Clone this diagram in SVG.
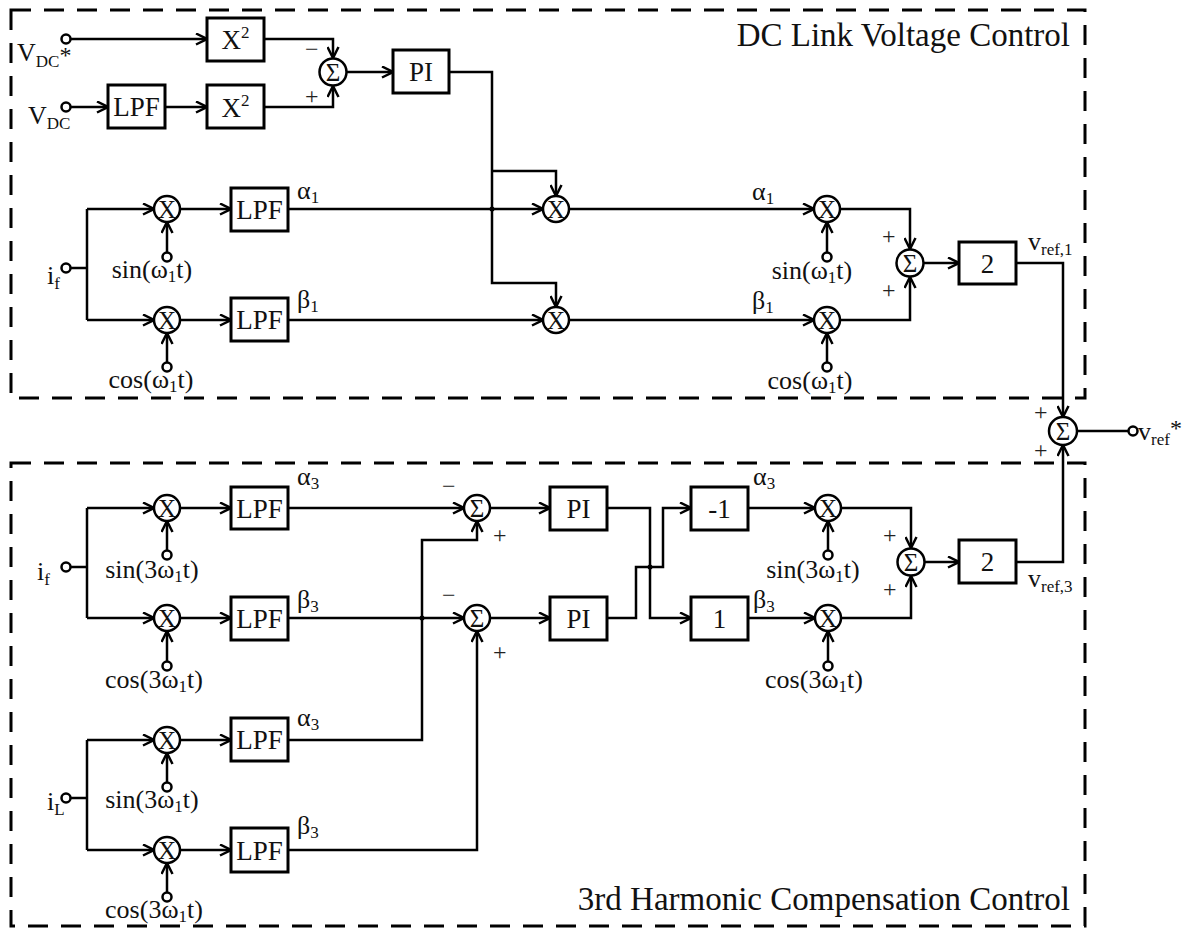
<svg xmlns="http://www.w3.org/2000/svg" width="1195" height="928" viewBox="0 0 1195 928">
<style>
.ln{fill:none;stroke:#000;stroke-width:2.5}
.box{fill:#fff;stroke:#000;stroke-width:3}
.cir{fill:#fff;stroke:#000;stroke-width:2.5}
.term{fill:#fff;stroke:#000;stroke-width:2.5}
.dash{fill:none;stroke:#000;stroke-width:3;stroke-dasharray:20 13}
.dot{fill:#000}
text{font-family:"Liberation Serif","Times New Roman",serif;fill:#111}
.bt{font-size:27px;text-anchor:middle}
.op{font-size:25px;text-anchor:middle}
.lb{font-size:26px}
.lc{font-size:26px;text-anchor:middle}
.sg{font-size:24px;fill:#222}
.ttl{font-size:33px;text-anchor:end}
.sub{font-size:17px}
</style>
<defs>
<marker id="ar" viewBox="0 0 13 13" refX="12" refY="6.5" markerWidth="13" markerHeight="13" markerUnits="userSpaceOnUse" orient="auto">
<path d="M1,1 L12,6.5 L1,12" fill="none" stroke="#000" stroke-width="2.5"/>
</marker>
</defs>

<g id="frames">
<rect class="dash" x="11" y="10" width="1074" height="388"/>
<rect class="dash" x="11" y="463" width="1074" height="463"/>
<text class="ttl" x="1070" y="46">DC Link Voltage Control</text>
<text class="ttl" x="1070" y="910">3rd Harmonic Compensation Control</text>
</g>

<g id="connectors">
<path class="ln" marker-end="url(#ar)" d="M70,39 H207"/>
<path class="ln" marker-end="url(#ar)" d="M70,107 H108"/>
<path class="ln" marker-end="url(#ar)" d="M165,107 H207"/>
<path class="ln" marker-end="url(#ar)" d="M264,39 H333 V58"/>
<path class="ln" marker-end="url(#ar)" d="M265,107 H333 V86"/>
<path class="ln" marker-end="url(#ar)" d="M347,72 H393"/>
<path class="ln" marker-end="url(#ar)" d="M449,72 H492 V283 H556 V307"/>
<path class="ln" marker-end="url(#ar)" d="M492,171 H556 V196"/>
<path class="ln" d="M70,268 H87 M87,209 V320"/>
<path class="ln" marker-end="url(#ar)" d="M87,209 H154"/>
<path class="ln" marker-end="url(#ar)" d="M87,320 H154"/>
<path class="ln" marker-end="url(#ar)" d="M167,253 V222"/>
<path class="ln" marker-end="url(#ar)" d="M167,363 V333"/>
<path class="ln" marker-end="url(#ar)" d="M180,209 H231"/>
<path class="ln" marker-end="url(#ar)" d="M180,320 H231"/>
<path class="ln" marker-end="url(#ar)" d="M288,209 H543"/>
<path class="ln" marker-end="url(#ar)" d="M288,320 H543"/>
<circle class="dot" cx="492" cy="209" r="2.5"/>
<path class="ln" marker-end="url(#ar)" d="M569,209 H814"/>
<path class="ln" marker-end="url(#ar)" d="M569,320 H814"/>
<path class="ln" marker-end="url(#ar)" d="M827,253 V222"/>
<path class="ln" marker-end="url(#ar)" d="M827,363 V333"/>
<path class="ln" marker-end="url(#ar)" d="M840,209 H910 V249"/>
<path class="ln" marker-end="url(#ar)" d="M840,320 H910 V277"/>
<path class="ln" marker-end="url(#ar)" d="M924,263 H959"/>
<path class="ln" marker-end="url(#ar)" d="M1016,263 H1063 V417"/>
<path class="ln" d="M1077,431 H1129"/>
<path class="ln" d="M70,567 H87 M87,508 V618"/>
<path class="ln" marker-end="url(#ar)" d="M87,508 H154"/>
<path class="ln" marker-end="url(#ar)" d="M87,618 H154"/>
<path class="ln" marker-end="url(#ar)" d="M167,551 V521"/>
<path class="ln" marker-end="url(#ar)" d="M167,662 V631"/>
<path class="ln" marker-end="url(#ar)" d="M180,508 H231"/>
<path class="ln" marker-end="url(#ar)" d="M180,618 H231"/>
<path class="ln" marker-end="url(#ar)" d="M288,508 H464"/>
<path class="ln" marker-end="url(#ar)" d="M288,618 H464"/>
<circle class="dot" cx="422" cy="618" r="2.5"/>
<path class="ln" marker-end="url(#ar)" d="M490,508 H550"/>
<path class="ln" marker-end="url(#ar)" d="M490,618 H550"/>
<path class="ln" marker-end="url(#ar)" d="M607,508 H650 V618 H691"/>
<path class="ln" marker-end="url(#ar)" d="M607,618 H636 V567 H663 V508 H691"/>
<circle class="dot" cx="650" cy="567" r="2.5"/>
<path class="ln" marker-end="url(#ar)" d="M748,508 H815"/>
<path class="ln" marker-end="url(#ar)" d="M748,618 H815"/>
<path class="ln" marker-end="url(#ar)" d="M828,551 V521"/>
<path class="ln" marker-end="url(#ar)" d="M828,662 V631"/>
<path class="ln" marker-end="url(#ar)" d="M841,508 H911 V548"/>
<path class="ln" marker-end="url(#ar)" d="M841,618 H911 V576"/>
<path class="ln" marker-end="url(#ar)" d="M925,562 H959"/>
<path class="ln" marker-end="url(#ar)" d="M1016,562 H1063 V445"/>
<path class="ln" d="M70,798 H87 M87,740 V850"/>
<path class="ln" marker-end="url(#ar)" d="M87,740 H154"/>
<path class="ln" marker-end="url(#ar)" d="M87,850 H154"/>
<path class="ln" marker-end="url(#ar)" d="M167,783 V753"/>
<path class="ln" marker-end="url(#ar)" d="M167,893 V863"/>
<path class="ln" marker-end="url(#ar)" d="M180,740 H231"/>
<path class="ln" marker-end="url(#ar)" d="M180,850 H231"/>
<path class="ln" marker-end="url(#ar)" d="M288,740 H422 V540 H477 V521"/>
<path class="ln" marker-end="url(#ar)" d="M288,850 H477 V631"/>
</g>

<g id="in-vdcref"><circle class="term" cx="66" cy="39" r="4.5"/><text class="lb" x="17" y="61">V<tspan class="sub" dy="6">DC</tspan><tspan style="font-size:24px" dy="-4">*</tspan></text></g>
<g id="in-vdc"><circle class="term" cx="66" cy="107" r="4.5"/><text class="lb" x="28" y="124">V<tspan class="sub" dy="5">DC</tspan></text></g>
<g id="sq1"><rect class="box" x="207" y="18" width="57" height="43"/><text class="bt" x="235.5" y="49">X<tspan style="font-size:17px" dy="-11">2</tspan></text></g>
<g id="lpf-vdc"><rect class="box" x="108" y="85" width="57" height="43"/><text class="bt" x="136.5" y="116">LPF</text></g>
<g id="sq2"><rect class="box" x="207" y="85" width="57" height="43"/><text class="bt" x="235.5" y="117">X<tspan style="font-size:17px" dy="-11">2</tspan></text></g>
<g id="sum1"><circle class="cir" cx="333" cy="72" r="13.5"/><text class="op" x="333" y="81">Σ</text><text class="sg" x="305" y="57">−</text><text class="sg" x="305" y="104">+</text></g>
<g id="pi-dc"><rect class="box" x="393" y="50" width="56" height="43"/><text class="bt" x="421" y="81">PI</text></g>

<g id="in-if1"><circle class="term" cx="66" cy="268" r="4.5"/><text class="lb" x="47" y="284">i<tspan class="sub" dy="5">f</tspan></text></g>
<g id="mul1"><circle class="cir" cx="167" cy="209" r="13"/><text class="op" x="167" y="218">X</text></g>
<g id="sin1"><circle class="term" cx="167" cy="257" r="4.5"/><text class="lc" x="152" y="278">sin(ω<tspan class="sub" dy="4">1</tspan><tspan dy="-4">t)</tspan></text></g>
<g id="lpf1"><rect class="box" x="231" y="188" width="57" height="43"/><text class="bt" x="259.5" y="219">LPF</text></g>
<g id="mul2"><circle class="cir" cx="167" cy="320" r="13"/><text class="op" x="167" y="329">X</text></g>
<g id="cos1"><circle class="term" cx="167" cy="367" r="4.5"/><text class="lc" x="151" y="388">cos(ω<tspan class="sub" dy="4">1</tspan><tspan dy="-4">t)</tspan></text></g>
<g id="lpf2"><rect class="box" x="231" y="298" width="57" height="43"/><text class="bt" x="259.5" y="329">LPF</text></g>
<text class="lb" x="297" y="199">α<tspan class="sub" dy="4">1</tspan></text>
<text class="lb" x="297" y="308">β<tspan class="sub" dy="4">1</tspan></text>

<g id="mul3"><circle class="cir" cx="556" cy="209" r="13"/><text class="op" x="556" y="218">X</text></g>
<g id="mul4"><circle class="cir" cx="556" cy="320" r="13"/><text class="op" x="556" y="329">X</text></g>

<text class="lb" x="752" y="200">α<tspan class="sub" dy="4">1</tspan></text>
<text class="lb" x="752" y="309">β<tspan class="sub" dy="4">1</tspan></text>
<g id="mul5"><circle class="cir" cx="827" cy="209" r="13"/><text class="op" x="827" y="218">X</text></g>
<g id="sin2"><circle class="term" cx="827" cy="257" r="4.5"/><text class="lc" x="812" y="279">sin(ω<tspan class="sub" dy="4">1</tspan><tspan dy="-4">t)</tspan></text></g>
<g id="mul6"><circle class="cir" cx="827" cy="320" r="13"/><text class="op" x="827" y="329">X</text></g>
<g id="cos2"><circle class="term" cx="827" cy="367" r="4.5"/><text class="lc" x="810" y="389">cos(ω<tspan class="sub" dy="4">1</tspan><tspan dy="-4">t)</tspan></text></g>
<g id="sum2"><circle class="cir" cx="910" cy="263" r="13.5"/><text class="op" x="910" y="272">Σ</text><text class="sg" x="882" y="244">+</text><text class="sg" x="882" y="298">+</text></g>
<g id="gain1"><rect class="box" x="959" y="242" width="57" height="42"/><text class="bt" x="987.5" y="273">2</text></g>
<text class="lb" x="1028" y="250">v<tspan class="sub" dy="5">ref,1</tspan></text>

<g id="sum-out"><circle class="cir" cx="1063" cy="431" r="14"/><text class="op" x="1063" y="440">Σ</text><text class="sg" x="1034" y="420">+</text><text class="sg" x="1034" y="458">+</text></g>
<g id="out"><circle class="term" cx="1133" cy="431" r="4.5"/><text class="lb" x="1138" y="440">v<tspan class="sub" dy="5">ref</tspan><tspan style="font-size:24px" dy="-9">*</tspan></text></g>

<g id="in-if2"><circle class="term" cx="66" cy="567" r="4.5"/><text class="lb" x="37" y="580">i<tspan class="sub" dy="5">f</tspan></text></g>
<g id="mul7"><circle class="cir" cx="167" cy="508" r="13"/><text class="op" x="167" y="517">X</text></g>
<g id="sin3"><circle class="term" cx="167" cy="555" r="4.5"/><text class="lc" x="152" y="578">sin(3ω<tspan class="sub" dy="4">1</tspan><tspan dy="-4">t)</tspan></text></g>
<g id="lpf3"><rect class="box" x="231" y="487" width="57" height="42"/><text class="bt" x="259.5" y="518">LPF</text></g>
<g id="mul8"><circle class="cir" cx="167" cy="618" r="13"/><text class="op" x="167" y="627">X</text></g>
<g id="cos3"><circle class="term" cx="167" cy="666" r="4.5"/><text class="lc" x="154" y="688">cos(3ω<tspan class="sub" dy="4">1</tspan><tspan dy="-4">t)</tspan></text></g>
<g id="lpf4"><rect class="box" x="231" y="597" width="57" height="43"/><text class="bt" x="259.5" y="628">LPF</text></g>
<text class="lb" x="297" y="485">α<tspan class="sub" dy="4">3</tspan></text>
<text class="lb" x="297" y="608">β<tspan class="sub" dy="4">3</tspan></text>

<g id="sum4"><circle class="cir" cx="477" cy="508" r="13"/><text class="op" x="477" y="517">Σ</text><text class="sg" x="442" y="494">−</text><text class="sg" x="493" y="543">+</text></g>
<g id="sum5"><circle class="cir" cx="477" cy="618" r="13"/><text class="op" x="477" y="627">Σ</text><text class="sg" x="442" y="603">−</text><text class="sg" x="493" y="660">+</text></g>
<g id="pi1"><rect class="box" x="550" y="487" width="57" height="43"/><text class="bt" x="578.5" y="518">PI</text></g>
<g id="pi2"><rect class="box" x="550" y="597" width="57" height="43"/><text class="bt" x="578.5" y="628">PI</text></g>
<g id="neg1"><rect class="box" x="691" y="487" width="57" height="43"/><text class="bt" x="719.5" y="518">-1</text></g>
<g id="one"><rect class="box" x="691" y="597" width="57" height="43"/><text class="bt" x="719.5" y="628">1</text></g>
<text class="lb" x="753" y="485">α<tspan class="sub" dy="4">3</tspan></text>
<text class="lb" x="753" y="608">β<tspan class="sub" dy="4">3</tspan></text>
<g id="mul9"><circle class="cir" cx="828" cy="508" r="13"/><text class="op" x="828" y="517">X</text></g>
<g id="sin4"><circle class="term" cx="828" cy="555" r="4.5"/><text class="lc" x="813" y="578">sin(3ω<tspan class="sub" dy="4">1</tspan><tspan dy="-4">t)</tspan></text></g>
<g id="mul10"><circle class="cir" cx="828" cy="618" r="13"/><text class="op" x="828" y="627">X</text></g>
<g id="cos4"><circle class="term" cx="828" cy="666" r="4.5"/><text class="lc" x="814" y="688">cos(3ω<tspan class="sub" dy="4">1</tspan><tspan dy="-4">t)</tspan></text></g>
<g id="sum6"><circle class="cir" cx="911" cy="562" r="13.5"/><text class="op" x="911" y="571">Σ</text><text class="sg" x="883" y="543">+</text><text class="sg" x="883" y="597">+</text></g>
<g id="gain3"><rect class="box" x="959" y="540" width="57" height="43"/><text class="bt" x="987.5" y="571">2</text></g>
<text class="lb" x="1028" y="587">v<tspan class="sub" dy="5">ref,3</tspan></text>

<g id="in-iL"><circle class="term" cx="66" cy="798" r="4.5"/><text class="lb" x="47" y="810">i<tspan class="sub" dy="5">L</tspan></text></g>
<g id="mul11"><circle class="cir" cx="167" cy="740" r="13"/><text class="op" x="167" y="749">X</text></g>
<g id="sin5"><circle class="term" cx="167" cy="787" r="4.5"/><text class="lc" x="152" y="808">sin(3ω<tspan class="sub" dy="4">1</tspan><tspan dy="-4">t)</tspan></text></g>
<g id="lpf5"><rect class="box" x="231" y="718" width="57" height="43"/><text class="bt" x="259.5" y="749">LPF</text></g>
<g id="mul12"><circle class="cir" cx="167" cy="850" r="13"/><text class="op" x="167" y="859">X</text></g>
<g id="cos5"><circle class="term" cx="167" cy="897" r="4.5"/><text class="lc" x="154" y="918">cos(3ω<tspan class="sub" dy="4">1</tspan><tspan dy="-4">t)</tspan></text></g>
<g id="lpf6"><rect class="box" x="231" y="828" width="57" height="44"/><text class="bt" x="259.5" y="860">LPF</text></g>
<text class="lb" x="297" y="726">α<tspan class="sub" dy="4">3</tspan></text>
<text class="lb" x="297" y="834">β<tspan class="sub" dy="4">3</tspan></text>
</svg>
